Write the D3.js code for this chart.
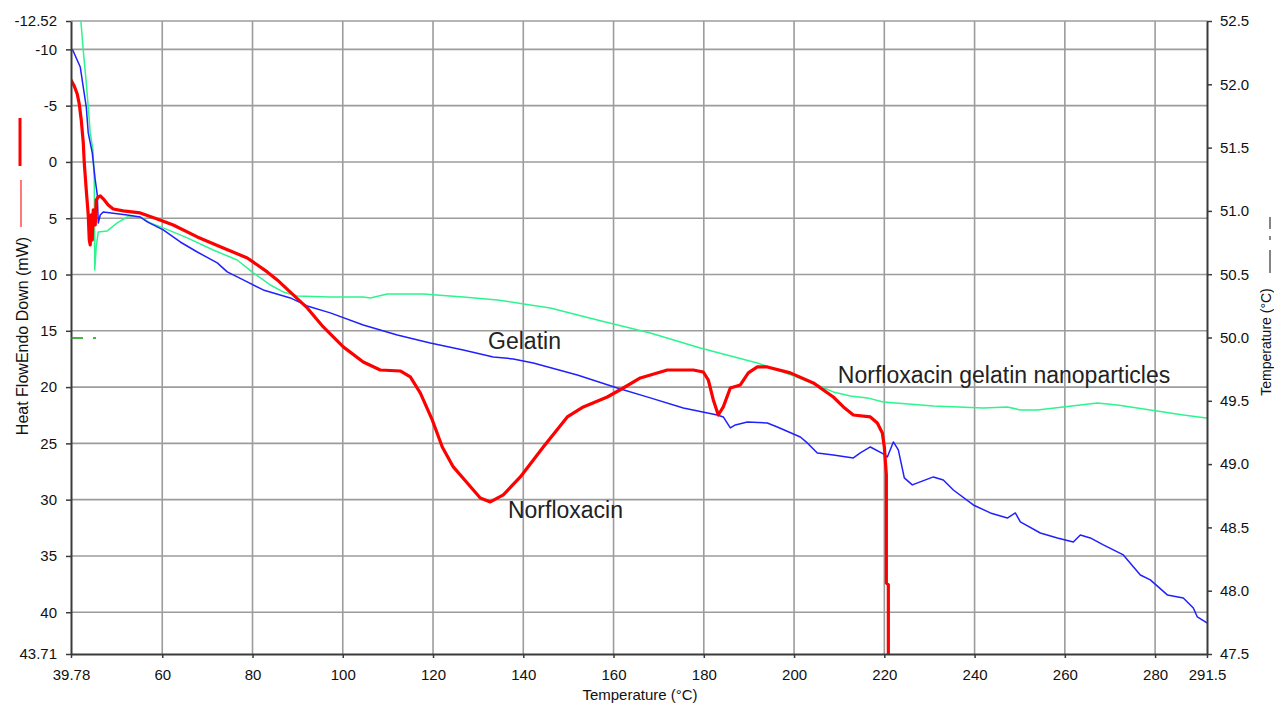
<!DOCTYPE html>
<html>
<head>
<meta charset="utf-8">
<script src="https://cdn.jsdelivr.net/npm/d3@7"></script>
<style>
  html, body { margin: 0; padding: 0; background: #fff; }
  svg { display: block; font-family: "Liberation Sans", Arial, sans-serif; }
</style>
</head>
<body>
<svg id="chart" width="1274" height="704"></svg>
<script>
// ---------- tick labels ----------
const xTickValues = [39.78, 60, 80, 100, 120, 140, 160, 180, 200, 220, 240, 260, 280, 291.5];
const xTickLabels = ["39.78", "60", "80", "100", "120", "140", "160", "180", "200", "220", "240", "260", "280", "291.5"];
const yTickValues = [-12.52, -10, -5, 0, 5, 10, 15, 20, 25, 30, 35, 40, 43.71];
const yTickLabels = ["-12.52", "-10", "-5", "0", "5", "10", "15", "20", "25", "30", "35", "40", "43.71"];
const yRightTickValues = [52.5, 52.0, 51.5, 51.0, 50.5, 50.0, 49.5, 49.0, 48.5, 48.0, 47.5];
const yRightTickLabels = ["52.5", "52.0", "51.5", "51.0", "50.5", "50.0", "49.5", "49.0", "48.5", "48.0", "47.5"];

// ---------- series: Norfloxacin (red) ----------
const norfloxacinT = [39.78, 40.50, 41.16, 41.61, 42.05, 42.50, 42.72, 43.16, 43.60, 43.83, 44.04, 44.27, 44.49, 44.71, 45.15, 45.37, 45.82, 46.26, 47.15, 48.03, 49.14, 51.36, 55.12, 58.89, 62.44, 67.76, 73.52, 78.84, 83.27, 85.48, 89.03, 92.13, 95.68, 100.11, 104.54, 108.31, 112.74, 114.96, 117.17, 119.83, 122.05, 124.49, 127.59, 130.47, 132.69, 135.57, 139.34, 144.43, 149.75, 153.30, 158.61, 162.16, 165.93, 171.91, 177.67, 179.89, 181.00, 182.11, 183.21, 184.32, 185.87, 188.09, 189.86, 191.86, 194.07, 199.17, 204.27, 208.70, 210.93, 213.14, 216.90, 218.45, 219.56, 220.00, 220.45, 220.45, 220.89, 220.89];
const norfloxacinHF = [-7.28, -6.75, -6.04, -5.15, -3.73, -1.69, 0.09, 2.49, 4.71, 6.93, 7.37, 4.71, 6.93, 4.26, 5.60, 3.38, 3.11, 3.02, 3.38, 3.82, 4.18, 4.35, 4.53, 5.06, 5.60, 6.66, 7.64, 8.53, 9.77, 10.48, 11.81, 12.97, 14.66, 16.43, 17.77, 18.48, 18.57, 19.10, 20.52, 22.92, 25.32, 27.09, 28.52, 29.85, 30.20, 29.58, 27.98, 25.32, 22.65, 21.76, 20.88, 20.08, 19.19, 18.48, 18.48, 18.66, 19.37, 21.14, 22.48, 21.76, 20.08, 19.81, 18.74, 18.21, 18.21, 18.74, 19.63, 20.88, 21.76, 22.48, 22.65, 23.19, 24.07, 25.32, 27.80, 37.40, 37.58, 43.71];

// ---------- series: Gelatin (blue) ----------
const gelatinT = [40.16, 41.83, 42.49, 43.16, 43.60, 44.49, 45.15, 45.60, 45.82, 46.26, 46.93, 52.24, 55.12, 56.68, 60.22, 63.99, 67.76, 72.19, 74.40, 78.84, 82.38, 88.37, 92.13, 97.23, 104.54, 112.08, 119.39, 126.70, 133.35, 137.78, 142.22, 151.97, 160.83, 168.14, 175.46, 182.99, 184.32, 185.87, 186.98, 189.64, 194.07, 196.29, 201.39, 202.94, 205.15, 208.70, 213.14, 214.68, 216.90, 219.78, 220.67, 222.00, 223.10, 224.43, 226.20, 230.86, 233.07, 235.29, 239.72, 243.49, 247.26, 249.03, 250.14, 254.57, 258.34, 261.88, 263.43, 265.65, 268.53, 272.96, 276.73, 278.94, 282.71, 286.25, 288.47, 289.36, 291.5];
const gelatinHF = [-9.95, -8.44, -6.66, -4.89, -2.58, -0.80, 1.60, 2.93, 5.42, 4.71, 4.44, 4.71, 4.89, 5.33, 6.04, 7.11, 8.00, 8.97, 9.77, 10.66, 11.37, 12.08, 12.79, 13.41, 14.48, 15.37, 16.08, 16.70, 17.32, 17.50, 17.86, 18.92, 20.08, 20.96, 21.85, 22.48, 22.65, 23.63, 23.36, 23.10, 23.19, 23.54, 24.43, 24.96, 25.85, 26.03, 26.29, 25.85, 25.32, 25.94, 26.21, 24.87, 25.58, 28.07, 28.69, 27.98, 28.25, 29.14, 30.47, 31.18, 31.63, 31.18, 31.98, 32.96, 33.40, 33.76, 33.14, 33.40, 34.02, 34.91, 36.69, 37.13, 38.46, 38.73, 39.62, 40.42, 40.95];

// ---------- series: Norfloxacin gelatin nanoparticles (green) ----------
const nanoT = [41.89, 42.49, 43.16, 43.60, 44.04, 44.64, 44.93, 45.04, 45.37, 45.82, 47.81, 50.03, 52.24, 55.12, 57.34, 60.22, 65.54, 71.30, 76.62, 80.17, 83.93, 86.81, 89.92, 97.23, 104.54, 106.09, 109.86, 117.84, 126.70, 134.24, 141.55, 145.98, 156.40, 168.14, 179.22, 191.86, 197.62, 205.15, 208.70, 212.47, 216.24, 219.78, 230.86, 241.94, 247.26, 250.14, 253.91, 259.67, 267.20, 271.64, 278.94, 286.25, 291.35];
const nanoHF = [-12.88, -9.95, -7.02, -4.89, -2.58, -1.07, 1.60, 9.59, 7.55, 6.22, 6.13, 5.42, 4.89, 4.89, 5.42, 5.86, 6.75, 7.82, 8.71, 9.86, 10.93, 11.55, 11.90, 11.99, 11.99, 12.08, 11.73, 11.73, 11.99, 12.26, 12.70, 12.97, 14.04, 15.19, 16.52, 17.86, 18.66, 19.81, 20.43, 20.79, 20.96, 21.32, 21.68, 21.85, 21.76, 22.03, 22.03, 21.76, 21.41, 21.59, 22.03, 22.48, 22.74];

// ---------- annotation labels ----------
const annotationTexts = ["Gelatin", "Norfloxacin", "Norfloxacin gelatin nanoparticles"];
const annotationT = [132.2, 136.6, 209.7];
const annotationHF = [16.6, 31.6, 19.6];

// ---------- layout ----------
const W = 1274, H = 704;
const plot = { left: 71, right: 1207, top: 21, bottom: 654 };

const svg = d3.select("#chart");
svg.append("rect").attr("width", W).attr("height", H).attr("fill", "#fff");

const x = d3.scaleLinear().domain([39.78, 291.5]).range([plot.left, plot.right]);
const y = d3.scaleLinear().domain([-12.52, 43.71]).range([plot.top, plot.bottom]);
const yR = d3.scaleLinear().domain([52.5, 47.5]).range([plot.top, plot.bottom]);

svg.append("defs").append("clipPath").attr("id", "clip")
  .append("rect")
  .attr("x", plot.left).attr("y", plot.top)
  .attr("width", plot.right - plot.left).attr("height", plot.bottom - plot.top);

// grid
const grid = svg.append("g").attr("stroke", "#9c9c9c").attr("stroke-width", 1.6);
grid.selectAll("line.v").data(xTickValues.slice(1, -1)).join("line")
  .attr("x1", d => x(d)).attr("x2", d => x(d))
  .attr("y1", plot.top).attr("y2", plot.bottom);
grid.selectAll("line.h").data(yTickValues.slice(0, -1)).join("line")
  .attr("x1", plot.left).attr("x2", plot.right)
  .attr("y1", d => y(d)).attr("y2", d => y(d));

// curves
const line = d3.line().x(d => x(d[0])).y(d => y(d[1]));
const curves = svg.append("g").attr("clip-path", "url(#clip)").attr("fill", "none")
  .attr("stroke-linejoin", "round").attr("stroke-linecap", "round");
curves.append("path").datum(d3.zip(nanoT, nanoHF))
  .attr("d", line).attr("stroke", "#2cf58f").attr("stroke-width", 1.5);
curves.append("path").datum(d3.zip(gelatinT, gelatinHF))
  .attr("d", line).attr("stroke", "#2020ff").attr("stroke-width", 1.5);
curves.append("path").datum(d3.zip(norfloxacinT, norfloxacinHF))
  .attr("d", line).attr("stroke", "#ff0000").attr("stroke-width", 3.2);

// axes
const axisColor = "#3a3a3a";
function styleAxis(g) {
  g.select(".domain").attr("stroke", axisColor).attr("stroke-width", 2);
  g.selectAll(".tick line").attr("stroke", axisColor).attr("stroke-width", 1.5);
  g.selectAll(".tick text").attr("fill", "#111").style("font-size", "15px")
    .style("font-family", '"Liberation Sans", Arial, sans-serif');
}
svg.append("g").attr("transform", `translate(${plot.left},0)`)
  .call(d3.axisLeft(y).tickValues(yTickValues).tickFormat((d, i) => yTickLabels[i]).tickSize(5).tickSizeOuter(0).tickPadding(9))
  .call(styleAxis);
svg.append("g").attr("transform", `translate(${plot.right},0)`)
  .call(d3.axisRight(yR).tickValues(yRightTickValues).tickFormat((d, i) => yRightTickLabels[i]).tickSize(5).tickSizeOuter(0).tickPadding(8))
  .call(styleAxis);
svg.append("g").attr("transform", `translate(0,${plot.bottom})`)
  .call(d3.axisBottom(x).tickValues(xTickValues).tickFormat((d, i) => xTickLabels[i]).tickSize(4).tickSizeOuter(0).tickPadding(11))
  .call(styleAxis);

// axis titles
svg.append("text").attr("x", 640).attr("y", 700).attr("text-anchor", "middle")
  .style("font-size", "15px").attr("fill", "#111").text("Temperature (°C)");
svg.append("text").attr("transform", "translate(28,336) rotate(-90)").attr("text-anchor", "middle")
  .style("font-size", "16px").attr("fill", "#111").text("Heat FlowEndo Down (mW)");
svg.append("text").attr("transform", "translate(1271,342) rotate(-90)").attr("text-anchor", "middle")
  .style("font-size", "14px").attr("fill", "#111").text("Temperature (°C)");

// legend-style line markers at the margins
const marks = svg.append("g").attr("fill", "none");
marks.append("line").attr("x1", 20).attr("x2", 20).attr("y1", 118).attr("y2", 166).attr("stroke", "#ff0000").attr("stroke-width", 3);
marks.append("line").attr("x1", 21).attr("x2", 21).attr("y1", 180).attr("y2", 227).attr("stroke", "#ff3030").attr("stroke-width", 1.3);
marks.append("line").attr("x1", 71).attr("x2", 83).attr("y1", 338).attr("y2", 338).attr("stroke", "#119911").attr("stroke-width", 1.5);
marks.append("line").attr("x1", 93).attr("x2", 96).attr("y1", 338).attr("y2", 338).attr("stroke", "#119911").attr("stroke-width", 1.5);
marks.append("line").attr("x1", 1270).attr("x2", 1270).attr("y1", 250).attr("y2", 273).attr("stroke", "#333").attr("stroke-width", 1.2);
marks.append("line").attr("x1", 1270).attr("x2", 1270).attr("y1", 236).attr("y2", 240).attr("stroke", "#333").attr("stroke-width", 1.2);
marks.append("line").attr("x1", 1270).attr("x2", 1270).attr("y1", 217).attr("y2", 229).attr("stroke", "#333").attr("stroke-width", 1.2);

// annotations
svg.append("g").selectAll("text").data(annotationTexts).join("text")
  .attr("x", (d, i) => x(annotationT[i])).attr("y", (d, i) => y(annotationHF[i]))
  .style("font-size", "23px").attr("fill", "#222").text(d => d);
</script>
</body>
</html>
